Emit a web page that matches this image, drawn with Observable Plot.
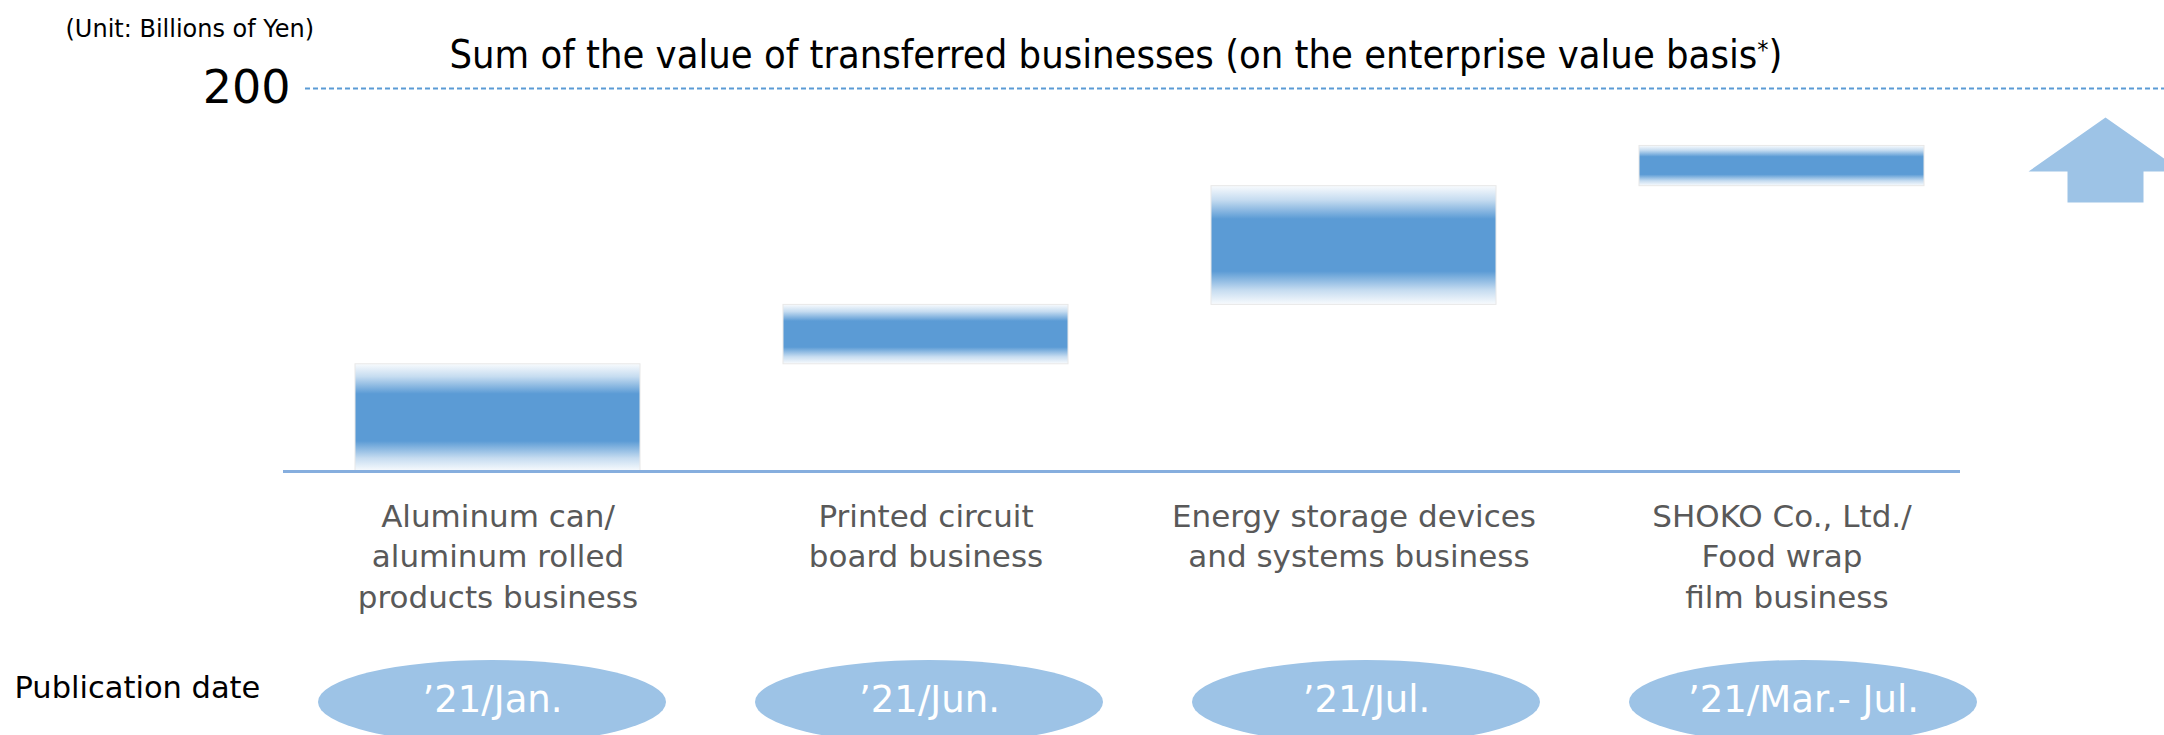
<!DOCTYPE html>
<html><head><meta charset="utf-8">
<script src="https://cdn.jsdelivr.net/npm/d3@7"></script>
<script src="https://cdn.jsdelivr.net/npm/@observablehq/plot@0.6"></script>
<style>
html,body{margin:0;padding:0;background:#fff;}
#wrap{width:2164px;height:735px;position:relative;overflow:hidden;font-family:"DejaVu Sans",sans-serif;}
#wrap svg{display:block;}
</style></head><body><div id="wrap"></div>
<script>
// ---- data ----
const categories = [
  "Aluminum can/\naluminum rolled\nproducts business",
  "Printed circuit\nboard business",
  "Energy storage devices\n and systems business",
  "SHOKO Co., Ltd./\nFood wrap\n film business"
];
const lowValues  = [0, 56, 87, 149];
const highValues = [56, 87, 149, 170];
const publicationDates = ["’21/Jan.", "’21/Jun.", "’21/Jul.", "’21/Mar.- Jul."];
const yTicks = [200];
const unitLabel = "(Unit: Billions of Yen)";
const titleText = "Sum of the value of transferred businesses (on the enterprise value basis*)";
const rowLabel = "Publication date";

const bars = categories.map((c, i) => ({category: c, low: lowValues[i], high: highValues[i]}));
const dates = categories.map((c, i) => ({category: c, date: publicationDates[i]}));

const arrowSymbol = {
  draw(ctx) {
    ctx.moveTo(0, -42);
    ctx.lineTo(77, 12);
    ctx.lineTo(38, 12);
    ctx.lineTo(38, 43);
    ctx.lineTo(-38, 43);
    ctx.lineTo(-38, 12);
    ctx.lineTo(-77, 12);
    ctx.closePath();
  }
};

const main = Plot.plot({
  width: 2164,
  height: 640,
  marginTop: 88,
  marginBottom: 169,
  marginLeft: 305,
  marginRight: 0,
  style: {fontFamily: "DejaVu Sans", color: "#000", background: "transparent"},
  x: {type: "band", domain: categories, range: [212, 2067], padding: 0.334, axis: null},
  y: {domain: [0, 200], axis: null},
  marks: [
    Plot.ruleY(yTicks, {stroke: "#5b9bd5", strokeWidth: 2, strokeDasharray: "5,3"}),
    Plot.barY(bars, {x: "category", y1: "low", y2: "high", fill: "url(#barGrad)", stroke: "#e8e8e8", strokeWidth: 1}),
    Plot.ruleY([0], {stroke: "#86aede", strokeWidth: 3, insetLeft: -22, insetRight: 204}),
    Plot.axisY(yTicks, {tickSize: 0, tickPadding: 15, fontSize: 46, label: null, fill: "#000"}),
    Plot.text(bars, {x: "category", text: "category", frameAnchor: "bottom", lineAnchor: "top", dy: 27, fontSize: 31, lineHeight: 1.3, fill: "#595959"}),
    Plot.text([titleText], {frameAnchor: "top-left", textAnchor: "start", lineAnchor: "bottom", dx: 144, dy: -21, fontSize: 39.5, fontFamily: "DejaVu Sans Condensed", fill: "#000"}),
    Plot.text([unitLabel], {frameAnchor: "top-left", textAnchor: "start", lineAnchor: "bottom", dx: -240, dy: -52, fontSize: 24, fill: "#000"}),
    Plot.dot([0], {frameAnchor: "top-right", dx: -59, dy: 71, symbol: arrowSymbol, fill: "#9dc3e6", stroke: "none", r: 10})
  ]
});

const ns = "http://www.w3.org/2000/svg";
const defs = document.createElementNS(ns, "defs");
defs.innerHTML = `<linearGradient id="barGrad" x1="0" y1="0" x2="0" y2="1">
  <stop offset="0" stop-color="#5b9bd5" stop-opacity="0.04"/>
  <stop offset="0.12" stop-color="#5b9bd5" stop-opacity="0.35"/>
  <stop offset="0.28" stop-color="#5b9bd5" stop-opacity="1"/>
  <stop offset="0.72" stop-color="#5b9bd5" stop-opacity="1"/>
  <stop offset="0.88" stop-color="#5b9bd5" stop-opacity="0.35"/>
  <stop offset="1" stop-color="#5b9bd5" stop-opacity="0.04"/>
</linearGradient>`;
main.insertBefore(defs, main.firstChild);

// superscript asterisk in the title
main.querySelectorAll("text").forEach(t => {
  if (t.textContent === titleText) {
    const [before, after] = titleText.split("*");
    t.textContent = before;
    const star = document.createElementNS(ns, "tspan");
    star.setAttribute("font-size", "25");
    star.setAttribute("dy", "-10");
    star.textContent = "*";
    const rest = document.createElementNS(ns, "tspan");
    rest.setAttribute("dy", "10");
    rest.textContent = after;
    t.appendChild(star);
    t.appendChild(rest);
  }
});

const row = Plot.plot({
  width: 2164,
  height: 95,
  marginTop: 20,
  marginBottom: 0,
  marginLeft: 0,
  marginRight: 0,
  style: {fontFamily: "DejaVu Sans", color: "#000", background: "transparent", overflow: "hidden"},
  x: {type: "band", domain: categories, range: [228, 2068], padding: 0.203, axis: null},
  marks: [
    Plot.cell(dates, {x: "category", fill: "#9dc3e6", rx: 174, ry: 42, insetBottom: -9}),
    Plot.text(dates, {x: "category", text: "date", frameAnchor: "middle", dy: 2, fontSize: 37, fill: "#fff"}),
    Plot.text([rowLabel], {frameAnchor: "left", textAnchor: "start", dx: 14, dy: -10, fontSize: 30.5, fill: "#000"})
  ]
});

const wrap = document.getElementById("wrap");
wrap.appendChild(main);
wrap.appendChild(row);
</script>
</body></html>
